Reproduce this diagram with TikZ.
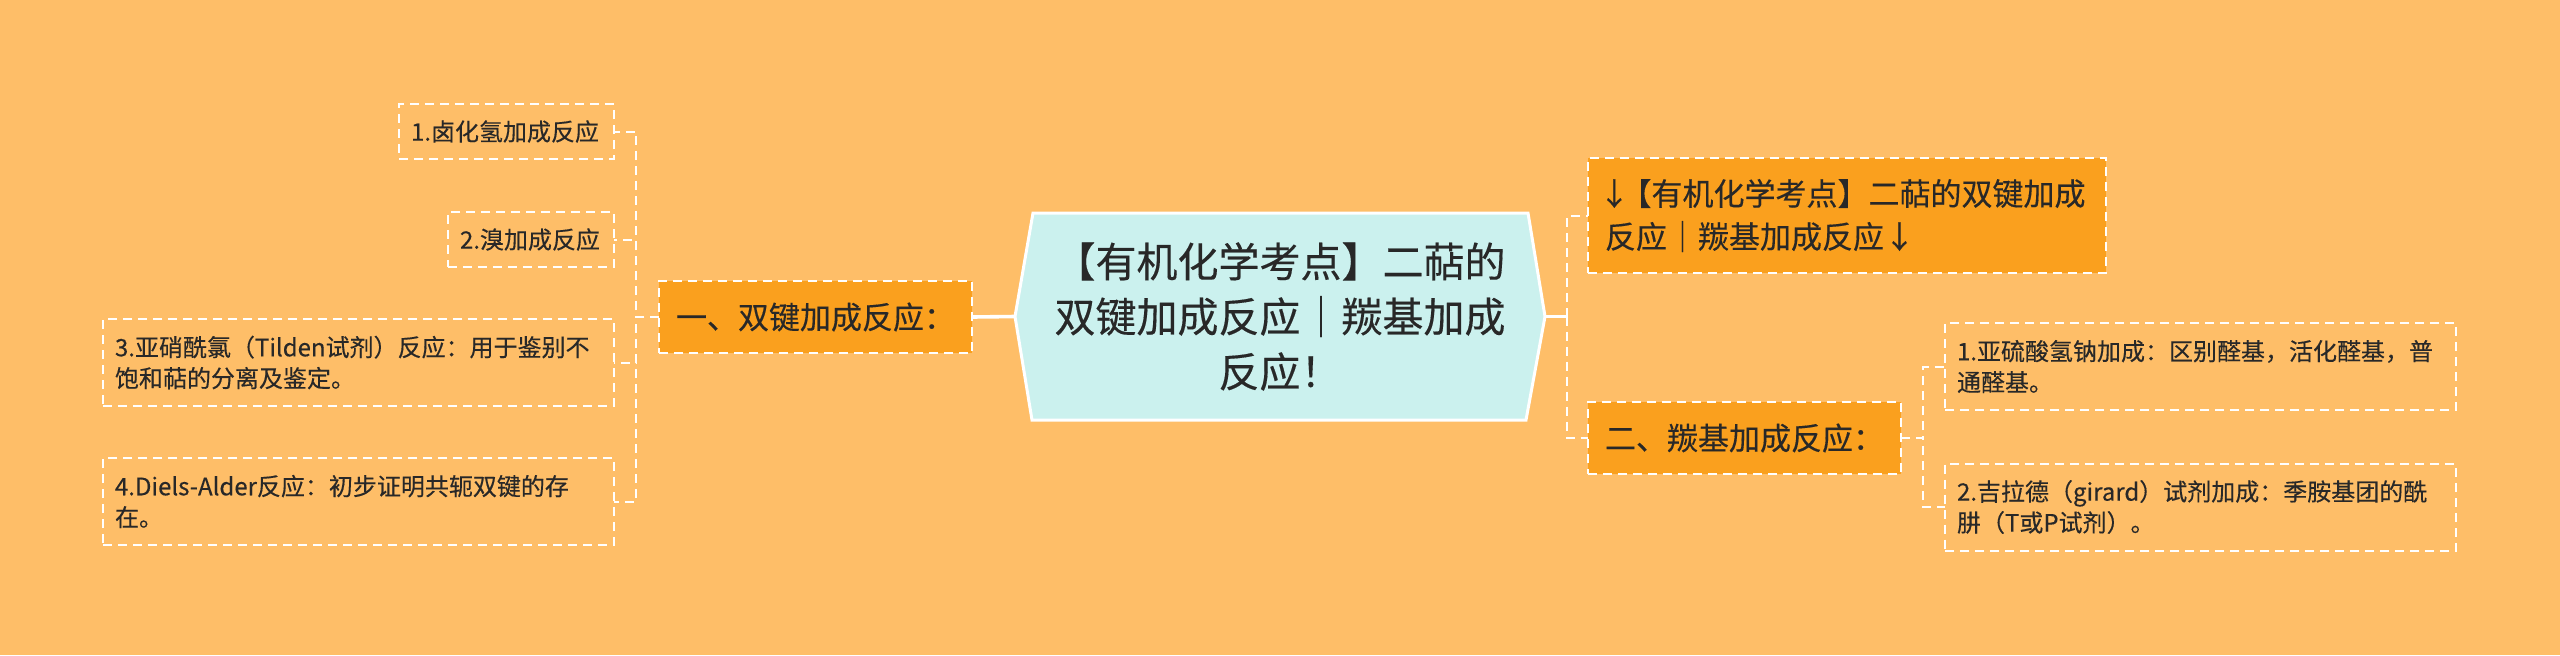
\documentclass[tikz,border=0pt]{standalone}
\usepackage{fontspec}
\newfontfamily\cjk[FakeBold=0.3]{Noto Sans CJK SC}
\usetikzlibrary{calc}
\hyphenpenalty=10000
\exhyphenpenalty=10000
\definecolor{bgc}{RGB}{254,190,104}
\definecolor{orangec}{RGB}{250,160,30}
\definecolor{cyanc}{RGB}{203,241,238}
\definecolor{txtc}{RGB}{40,40,40}
\pgfdeclarelayer{back}
\pgfsetlayers{back,main}
\tikzset{
  dashline/.style={draw=white, line width=1pt, dash pattern=on 4.5pt off 3pt},
  leaf/.style={dashline, inner xsep=6pt, inner ysep=0pt, outer sep=0pt, align=left, text=txtc, font=\cjk\fontsize{12pt}{15.5pt}\selectfont},
  branch/.style={dashline, fill=orangec, inner sep=0pt, outer sep=0pt, text=txtc, font=\cjk\fontsize{15.5pt}{21.5pt}\selectfont},
  conn/.style={dashline},
  mainconn/.style={draw=white, line width=1.8pt},
  centre/.style={inner sep=0pt, outer sep=0pt, align=center, text=txtc, font=\cjk\fontsize{20.5pt}{27.5pt}\selectfont},
}
\begin{document}
\begin{tikzpicture}[x=0.5pt,y=-0.5pt]
\begin{pgfonlayer}{back}
\fill[bgc] (0,0) rectangle (2560,655);
\end{pgfonlayer}
\useasboundingbox (0,0) rectangle (2560,655);

% central node
\node[centre, minimum width=265pt, minimum height=103.5pt] (c) at (1280,316.5)
  {【有机化学考点】二萜的\\双键加成反应｜羰基加成\\反应！};
\begin{pgfonlayer}{back}
\draw[white, line width=1.5pt, fill=cyanc, line join=miter]
  (c.west) -- ($(c.north west)+(18,0)$) -- ($(c.north east)+(-17,0)$) -- (c.east)
  -- ($(c.south east)+(-19,0)$) -- ($(c.south west)+(17,0)$) -- cycle;
\end{pgfonlayer}

% left branch
\node[branch, minimum width=156.5pt, minimum height=36pt] (b1) at (815.5,317) {一、双键加成反应：};
\draw[mainconn] (b1.east) -- (c.west);

\node[leaf, anchor=east, text width=95.5pt, minimum height=27.5pt] (l1) at (614,131.5) {1.卤化氢加成反应};
\node[leaf, anchor=east, text width=71pt, minimum height=27.5pt] (l2) at (614,239.5) {2.溴加成反应};
\node[leaf, anchor=east, text width=243.5pt, minimum height=43.5pt] (l3) at (614,362.5)
  {3.亚硝酰氯（Tilden试剂）反应：用于鉴别不\\饱和萜的分离及鉴定。};
\node[leaf, anchor=east, text width=243.5pt, minimum height=43.5pt] (l4) at (614,501.5)
  {4.Diels-Alder反应：初步证明共轭双键的存\\在。};
\foreach \l in {l1,l2,l3,l4} \draw[conn] (b1.west) -- ++(-23,0) |- (\l.east);

% right side
\coordinate (rt) at ($(c.east)+(22,0)$);
\draw[mainconn] (c.east) -- (rt);
\node[branch, anchor=west, minimum height=57.5pt, text width=242pt, inner xsep=8.5pt, align=left] (r1) at (1588,215.5)
  {\kern-0.2em↓\kern-0.3em【有机化学考点】二萜的双键加成\\反应｜羰基加成反应↓};
\node[branch, anchor=west, minimum width=156.5pt, minimum height=36pt] (b2) at (1588,438) {二、羰基加成反应：};
\draw[conn] (rt) |- (r1.west);
\draw[conn] (rt) |- (b2.west);

\node[leaf, anchor=west, text width=243.5pt, minimum height=43.5pt] (rl1) at (1945,366.5)
  {1.亚硫酸氢钠加成：区别醛基，活化醛基，普\\通醛基。};
\node[leaf, anchor=west, text width=243.5pt, minimum height=43.5pt] (rl2) at (1945,507)
  {2.吉拉德（girard）试剂加成：季胺基团的酰\\肼（T或P试剂）。};
\foreach \l in {rl1,rl2} \draw[conn] (b2.east) -- ++(22,0) |- (\l.west);
\end{tikzpicture}
\end{document}
